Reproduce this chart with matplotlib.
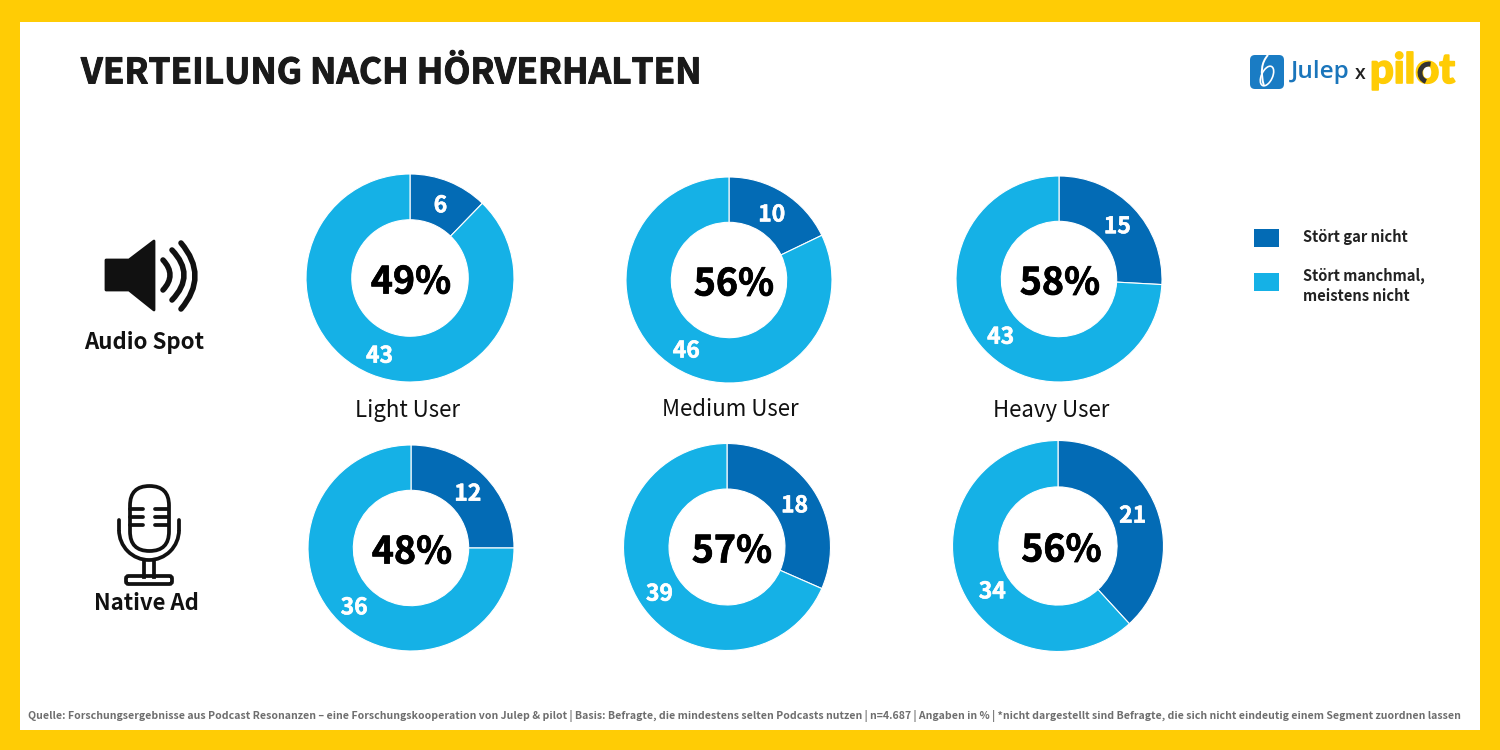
import matplotlib
matplotlib.use("Agg")
import matplotlib.pyplot as plt
from matplotlib.patches import Rectangle, FancyBboxPatch, Polygon, PathPatch, Arc
from matplotlib.path import Path
import matplotlib.patheffects as pe

plt.rcParams['font.family'] = ['Noto Sans CJK SC', 'DejaVu Sans']

YELLOW = '#FFCC05'
DARK = '#036BB5'
LIGHT = '#15B1E6'

title = 'VERTEILUNG NACH HÖRVERHALTEN'
segments = ['Light User', 'Medium User', 'Heavy User']
audio_gar_nicht = [6, 10, 15]
audio_manchmal = [43, 46, 43]
audio_total = [49, 56, 58]
native_gar_nicht = [12, 18, 21]
native_manchmal = [36, 39, 34]
native_total = [48, 57, 56]
legend_labels = ['Stört gar nicht', 'Stört manchmal,\nmeistens nicht']
source = ('Quelle: Forschungsergebnisse aus Podcast Resonanzen – eine Forschungskooperation von Julep & pilot | '
          'Basis: Befragte, die mindestens selten Podcasts nutzen | n=4.687 | Angaben in % | '
          '*nicht dargestellt sind Befragte, die sich nicht eindeutig einem Segment zuordnen lassen')

W, H = 1500, 750
fig = plt.figure(figsize=(15, 7.5), dpi=100, facecolor=YELLOW)
bg = fig.add_axes([0, 0, 1, 1])
bg.set_xlim(0, W)
bg.set_ylim(H, 0)
bg.axis('off')
bg.add_patch(Rectangle((20, 22), 1460, 708, fc='white', ec='none'))

bg.text(81, 73, title, fontsize=25.35, fontweight='bold', color='#1a1a1a', ha='left', va='center',
        path_effects=[pe.withStroke(linewidth=0.7, foreground='#1a1a1a')])


def donut(cx, cy, r, a, b, total, center_dx=0, nudges=((0, 0), (0, 0))):
    s = r * 2 * 1.25
    ax = fig.add_axes([(cx - s / 2) / W, 1 - (cy + s / 2) / H, s / W, s / H])
    _, texts = ax.pie([a, b], colors=[DARK, LIGHT], startangle=90, counterclock=False,
                      labels=[str(a), str(b)], labeldistance=0.78,
                      wedgeprops=dict(width=0.44, edgecolor='white', linewidth=0.8))
    for t, (dx, dy) in zip(texts, nudges):
        t.set_ha('center')
        t.set_va('center')
        t.set_color('white')
        t.set_fontweight('bold')
        t.set_fontsize(16.5)
        x0, y0 = t.get_position()
        t.set_position((x0 + dx / r, y0 - (3 + dy) / r))
        t.set_path_effects([pe.withStroke(linewidth=0.4, foreground='white')])
    ax.set_xlim(-1.25, 1.25)
    ax.set_ylim(-1.25, 1.25)
    ax.text(center_dx / r, -4 / r, f'{total}%', ha='center', va='center', fontsize=27, fontweight='bold',
            color='black', path_effects=[pe.withStroke(linewidth=0.5, foreground='black')])


top_layout = [(410, 278, 104, 1), (729, 280, 103, 5), (1059, 279, 103, 1)]
bot_layout = [(411, 548, 103, 1), (727, 547, 103.5, 5), (1058, 546, 105.5, 3.5)]
bot_nudges = [((0, 0), (0, 0)), ((0, 0), (0, 0)), ((-2, -3), (11, 13))]
for (cx, cy, r, d), a, b, tot in zip(top_layout, audio_gar_nicht, audio_manchmal, audio_total):
    donut(cx, cy, r, a, b, tot, d)
for (cx, cy, r, d), a, b, tot, n in zip(bot_layout, native_gar_nicht, native_manchmal, native_total, bot_nudges):
    donut(cx, cy, r, a, b, tot, d, n)

for x, lab in zip([407.5, 730, 1051], segments):
    bg.text(x, 410, lab, fontsize=16, ha='center', va='center', color='#111111')

bg.text(144, 342, 'Audio Spot', fontsize=16, fontweight='bold', ha='center', va='center', color='#111111')
bg.text(146, 604, 'Native Ad', fontsize=16, fontweight='bold', ha='center', va='center', color='#111111')

# legend
for y, c in zip([229, 273], [DARK, LIGHT]):
    bg.add_patch(Rectangle((1254, y), 25, 18, fc=c, ec='none'))
bg.text(1303, 237, legend_labels[0], fontsize=10.6, fontweight='bold', color='#222222', va='center')
bg.text(1303, 286, legend_labels[1], fontsize=10.6, fontweight='bold', color='#222222', va='center', linespacing=1.3)

# footer
bg.text(28, 716, source, fontsize=7.59, fontweight='bold', color='#6e6e6e', va='center')

# speaker icon
K = '#111111'
bg.add_patch(Polygon([(106, 260), (129, 260), (154, 241), (154, 310), (129, 290), (106, 290)],
                     closed=True, fc=K, ec=K, lw=2, joinstyle='round'))
for x0, y0, y1, bulge in [(163, 260, 290, 170), (172, 250, 300, 184), (181, 243, 309, 195)]:
    p = Path([(x0, y0), (2 * bulge - x0, (y0 + y1) / 2), (x0, y1)], [Path.MOVETO, Path.CURVE3, Path.CURVE3])
    bg.add_patch(PathPatch(p, fc='none', ec=K, lw=4, capstyle='round'))

# microphone icon
lw = 2.7
bg.add_patch(FancyBboxPatch((149.5, 505.5), 0, 26, boxstyle='round,pad=19.5,rounding_size=19.5',
                            fc='none', ec=K, lw=lw))
for y in [509, 517, 525]:
    bg.plot([130, 143], [y, y], color=K, lw=lw, solid_capstyle='round')
    bg.plot([155, 168], [y, y], color=K, lw=lw, solid_capstyle='round')
bg.plot([119, 119], [520, 530], color=K, lw=lw, solid_capstyle='round')
bg.plot([179, 179], [520, 530], color=K, lw=lw, solid_capstyle='round')
bg.add_patch(Arc((149, 530), 60, 60, theta1=0, theta2=180, color=K, lw=lw))
bg.plot([144, 144], [560, 577], color=K, lw=lw)
bg.plot([154, 154], [560, 577], color=K, lw=lw)
bg.add_patch(FancyBboxPatch((128, 578), 42, 4, boxstyle='round,pad=2,rounding_size=2.5', fc='none', ec=K, lw=lw))

# logo
bg.add_patch(FancyBboxPatch((1253, 58), 28, 28, boxstyle='round,pad=3,rounding_size=5', fc='#1A7CC4', ec='none'))
bg.add_patch(Arc((1267, 76), 11, 21, angle=25, theta1=0, theta2=360, color='white', lw=1.2))
flame = Path([(1268, 55), (1258, 66), (1264, 86)], [Path.MOVETO, Path.CURVE3, Path.CURVE3])
bg.add_patch(PathPatch(flame, fc='none', ec='white', lw=1.4))
bg.text(1291, 72, 'Julep', fontsize=17.5, color='#1A75BB', fontweight='semibold',
        family=['Open Sans', 'DejaVu Sans'], va='center')
bg.text(1360, 74, 'x', fontsize=14, color='#222222', fontweight='semibold',
        family=['Open Sans', 'DejaVu Sans'], ha='center', va='center')
bg.text(1370, 71, 'pilot', fontsize=30, color=YELLOW, fontweight='black', family=['Lato', 'DejaVu Sans'], va='center',
        path_effects=[pe.withStroke(linewidth=1.2, foreground=YELLOW)])
bg.add_patch(Arc((1429, 73), 18, 18, theta1=110, theta2=280, color='#333333', lw=3.5, zorder=5))

fig.savefig('out.png', dpi=100, facecolor=YELLOW)
